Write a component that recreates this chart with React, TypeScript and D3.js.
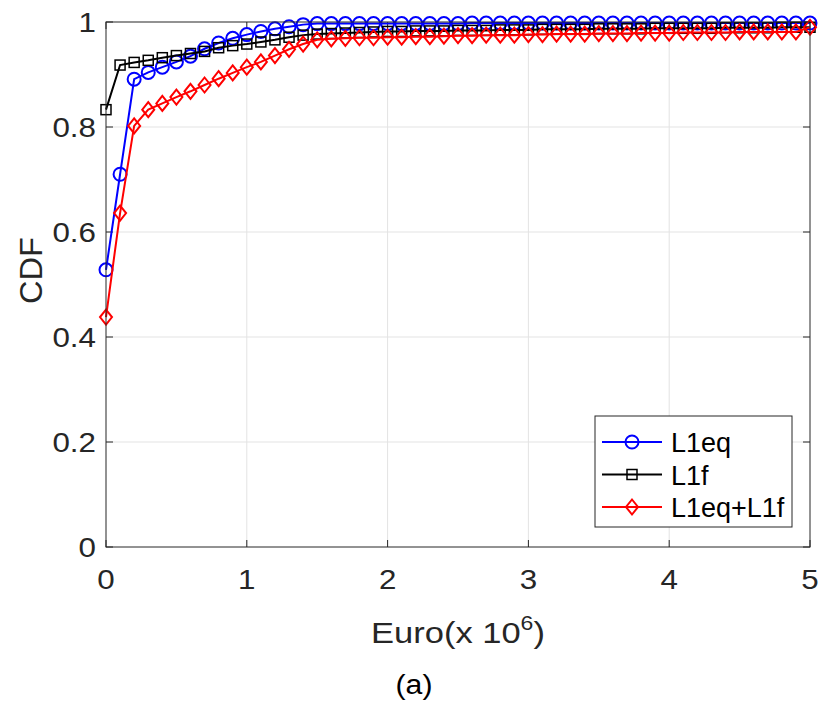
import React from "react";
import { scaleLinear, line, range } from "d3";

// x values: 0 .. 5 in steps of 0.1 (x 10^6 euro)
const xValues = range(51).map((i) => i / 10);

const l1eq = [
  0.528, 0.71, 0.891, 0.904, 0.914, 0.924, 0.935, 0.949, 0.96, 0.969,
  0.976, 0.982, 0.987, 0.991, 0.995, 0.997, 0.997, 0.997, 0.997, 0.997,
  0.997, 0.997, 0.997, 0.997, 0.997, 0.997, 0.998, 0.998, 0.998, 0.998,
  0.998, 0.998, 0.998, 0.998, 0.998, 0.998, 0.998, 0.998, 0.998, 0.998,
  0.998, 0.998, 0.998, 0.998, 0.998, 0.998, 0.998, 0.998, 0.998, 0.998,
  0.998,
];

const l1f = [
  0.833, 0.918, 0.923, 0.927, 0.932, 0.936, 0.94, 0.944, 0.951, 0.955,
  0.958, 0.962, 0.966, 0.971, 0.975, 0.977, 0.978, 0.979, 0.98, 0.981,
  0.982, 0.982, 0.983, 0.983, 0.983, 0.984, 0.984, 0.984, 0.985, 0.985,
  0.985, 0.986, 0.986, 0.986, 0.986, 0.987, 0.987, 0.987, 0.987, 0.988,
  0.988, 0.988, 0.988, 0.988, 0.989, 0.989, 0.989, 0.989, 0.99, 0.99,
  0.99,
];

const l1eqL1f = [
  0.438, 0.636, 0.802, 0.833, 0.845, 0.857, 0.868, 0.88, 0.892, 0.903,
  0.914, 0.924, 0.936, 0.948, 0.958, 0.966, 0.968, 0.969, 0.97, 0.97,
  0.971, 0.971, 0.972, 0.972, 0.973, 0.974, 0.974, 0.975, 0.975, 0.975,
  0.976, 0.976, 0.977, 0.977, 0.977, 0.978, 0.978, 0.978, 0.979, 0.979,
  0.979, 0.98, 0.98, 0.98, 0.98, 0.981, 0.981, 0.981, 0.981, 0.981,
  0.99,
];

const xTicks = [0, 1, 2, 3, 4, 5];
const yTicks = [0, 0.2, 0.4, 0.6, 0.8, 1];

const series = [
  { name: "L1eq", values: l1eq, color: "#0000ff", marker: "circle" },
  { name: "L1f", values: l1f, color: "#000000", marker: "square" },
  { name: "L1eq+L1f", values: l1eqL1f, color: "#ff0000", marker: "diamond" },
];

const FONT = "'Liberation Sans', Arial, sans-serif";

function Marker({ type, x, y, color }) {
  if (type === "circle") {
    return <circle cx={x} cy={y} r={6.5} fill="none" stroke={color} strokeWidth={2} />;
  }
  if (type === "square") {
    return <rect x={x - 5} y={y - 5} width={10} height={10} fill="none" stroke={color} strokeWidth={1.5} />;
  }
  return (
    <path
      d={`M${x},${y - 7.5}L${x + 6},${y}L${x},${y + 7.5}L${x - 6},${y}Z`}
      fill="none"
      stroke={color}
      strokeWidth={2}
    />
  );
}

// text that is a little wider than the font, like the exported figure
function Label({ x, y, sx = 1.12, children, ...rest }) {
  return (
    <text transform={`translate(${x},${y}) scale(${sx},1)`} {...rest}>
      {children}
    </text>
  );
}

export default function App() {
  const width = 822;
  const height = 703;
  const plot = { left: 106, right: 810, top: 22, bottom: 547 };

  const x = scaleLinear().domain([0, 5]).range([plot.left, plot.right]);
  const y = scaleLinear().domain([0, 1]).range([plot.bottom, plot.top]);

  const lineGen = line<number>()
    .x((d, i) => x(xValues[i]))
    .y((d) => y(d));

  const axisColor = "#262626";
  const tickLen = 7;

  const legend = { x: 595, y: 416, w: 197, h: 111 };

  return (
    <svg
      width={width}
      height={height}
      style={{ position: "absolute", left: 0, top: 0, background: "#fff" }}
      fontFamily={FONT}
    >
      <rect width={width} height={height} fill="#fff" />

      {/* grid */}
      {xTicks.slice(1, -1).map((t) => (
        <line key={"gx" + t} x1={x(t)} x2={x(t)} y1={plot.top} y2={plot.bottom} stroke="#e3e3e3" strokeWidth={1} />
      ))}
      {yTicks.slice(1, -1).map((t) => (
        <line key={"gy" + t} x1={plot.left} x2={plot.right} y1={y(t)} y2={y(t)} stroke="#e3e3e3" strokeWidth={1} />
      ))}

      {/* ticks on all four sides */}
      {xTicks.map((t) => (
        <g key={"tx" + t} stroke={axisColor}>
          <line x1={x(t)} x2={x(t)} y1={plot.bottom} y2={plot.bottom - tickLen} />
          <line x1={x(t)} x2={x(t)} y1={plot.top} y2={plot.top + tickLen} />
        </g>
      ))}
      {yTicks.map((t) => (
        <g key={"ty" + t} stroke={axisColor}>
          <line x1={plot.left} x2={plot.left + tickLen} y1={y(t)} y2={y(t)} />
          <line x1={plot.right} x2={plot.right - tickLen} y1={y(t)} y2={y(t)} />
        </g>
      ))}

      {/* series */}
      {series.map((s) => (
        <g key={s.name}>
          <path d={lineGen(s.values)} fill="none" stroke={s.color} strokeWidth={2} />
          {s.values.map((v, i) => (
            <Marker key={i} type={s.marker} x={x(xValues[i])} y={y(v)} color={s.color} />
          ))}
        </g>
      ))}

      {/* box */}
      <rect
        x={plot.left}
        y={plot.top}
        width={plot.right - plot.left}
        height={plot.bottom - plot.top}
        fill="none"
        stroke={axisColor}
        strokeWidth={1}
      />

      {/* tick labels */}
      {xTicks.map((t) => (
        <Label key={"lx" + t} x={x(t)} y={plot.bottom + 42} textAnchor="middle" fontSize={28} fill={axisColor}>
          {t}
        </Label>
      ))}
      {yTicks.map((t) => (
        <Label key={"ly" + t} x={plot.left - 10} y={y(t) + 10} textAnchor="end" fontSize={28} fill={axisColor}>
          {t}
        </Label>
      ))}

      {/* axis titles */}
      <text
        transform={`translate(42, ${(plot.top + plot.bottom) / 2 - 14}) rotate(-90) scale(1.05,1)`}
        textAnchor="middle"
        fontSize={31}
        fill={axisColor}
      >
        CDF
      </text>
      <Label x={(plot.left + plot.right) / 2} y={643} sx={1.15} textAnchor="middle" fontSize={30} fill={axisColor}>
        Euro(x 10<tspan fontSize={20} dy={-13}>6</tspan>
        <tspan dy={13}>)</tspan>
      </Label>
      <Label x={414} y={694} textAnchor="middle" fontSize={27} fill="#000">
        (a)
      </Label>

      {/* legend */}
      <rect x={legend.x} y={legend.y} width={legend.w} height={legend.h} fill="#fff" stroke={axisColor} strokeWidth={1} />
      {series.map((s, i) => {
        const ly = legend.y + 26 + i * 32.5;
        return (
          <g key={"lg" + s.name}>
            <line x1={legend.x + 7} x2={legend.x + 67} y1={ly} y2={ly} stroke={s.color} strokeWidth={2} />
            <Marker type={s.marker} x={legend.x + 37} y={ly} color={s.color} />
            <text x={legend.x + 76} y={ly + 10} fontSize={27} fill="#000">
              {s.name}
            </text>
          </g>
        );
      })}
    </svg>
  );
}
